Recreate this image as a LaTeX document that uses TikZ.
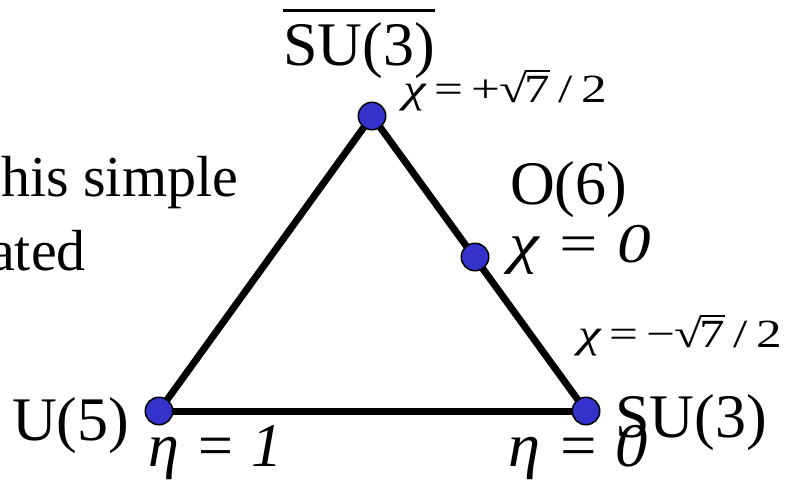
\documentclass[tikz,border=0pt]{standalone}
\usepackage{fontspec}
\setmainfont{Liberation Serif}
\begin{document}
\begin{tikzpicture}[x=1pt,y=-1pt,
  vtx/.style={circle,draw=black,line width=1.5pt,fill=dotblue,minimum size=27.5pt,inner sep=0pt},
  edge/.style={line width=7pt,draw=black},
  big/.style={inner sep=0pt,font=\fontsize{62}{70}\selectfont},
  eq/.style={inner sep=0pt,font=\fontsize{56}{60}\selectfont\itshape},
  small/.style={inner sep=0pt,font=\fontsize{40}{48}\selectfont}]
\definecolor{dotblue}{HTML}{3333CC}
\useasboundingbox (0,0) rectangle (791,483);
\coordinate (topc) at (372,116);
\coordinate (u5c) at (159,411);
\coordinate (su3c) at (586,411);
\coordinate (o6c) at (475,257);
\draw[edge] (topc) -- (u5c);
\draw[edge] (topc) -- (su3c);
\draw[edge] (u5c) -- (su3c);
\node[vtx] (top) at (topc) {};
\node[vtx] (u5) at (u5c) {};
\node[vtx] (su3) at (su3c) {};
\node[vtx] (o6) at (o6c) {};
% texts
\node[big,anchor=base west,font=\fontsize{58}{64}\selectfont] (t1) at (1,196) {his simple};
\node[big,anchor=base east,font=\fontsize{58}{64}\selectfont] (t2) at (86,270) {ated};
\node[big,anchor=base west] (sutop) at (283,65) {SU(3)};
\draw[line width=3pt] (sutop.north west |- 0,10) -- (sutop.north east |- 0,10);
\node[small,anchor=base west] (chip) at (403,102) {\scalebox{1.28}[1]{\itshape χ\,\upshape =\,+\kern-1pt√\kern-2pt\rlap{\rule[0.74em]{0.5em}{0.05em}}7\,/\,2}};
\node[big,anchor=base west] (o6t) at (510,204) {O(6)};
\node[eq,anchor=base west] (chi0) at (509,262) {\scalebox{1.2}[1]{χ = 0}};
\node[small,anchor=base west] (chim) at (578,347) {\scalebox{1.28}[1]{\itshape χ\,\upshape =\,−\kern-1pt√\kern-2pt\rlap{\rule[0.74em]{0.5em}{0.05em}}7\,/\,2}};
\node[big,anchor=base west] (u5t) at (12,440) {U(5)};
\node[big,anchor=base west] (su3t) at (615,437) {SU(3)};
\node[big,anchor=base west,font=\fontsize{62}{70}\selectfont\itshape] (eta1) at (148,466) {η = 1};
\node[big,anchor=base west,font=\fontsize{62}{70}\selectfont\itshape] (eta0) at (508,466) {\scalebox{1.04}[1]{η = 0}};
\end{tikzpicture}
\end{document}
